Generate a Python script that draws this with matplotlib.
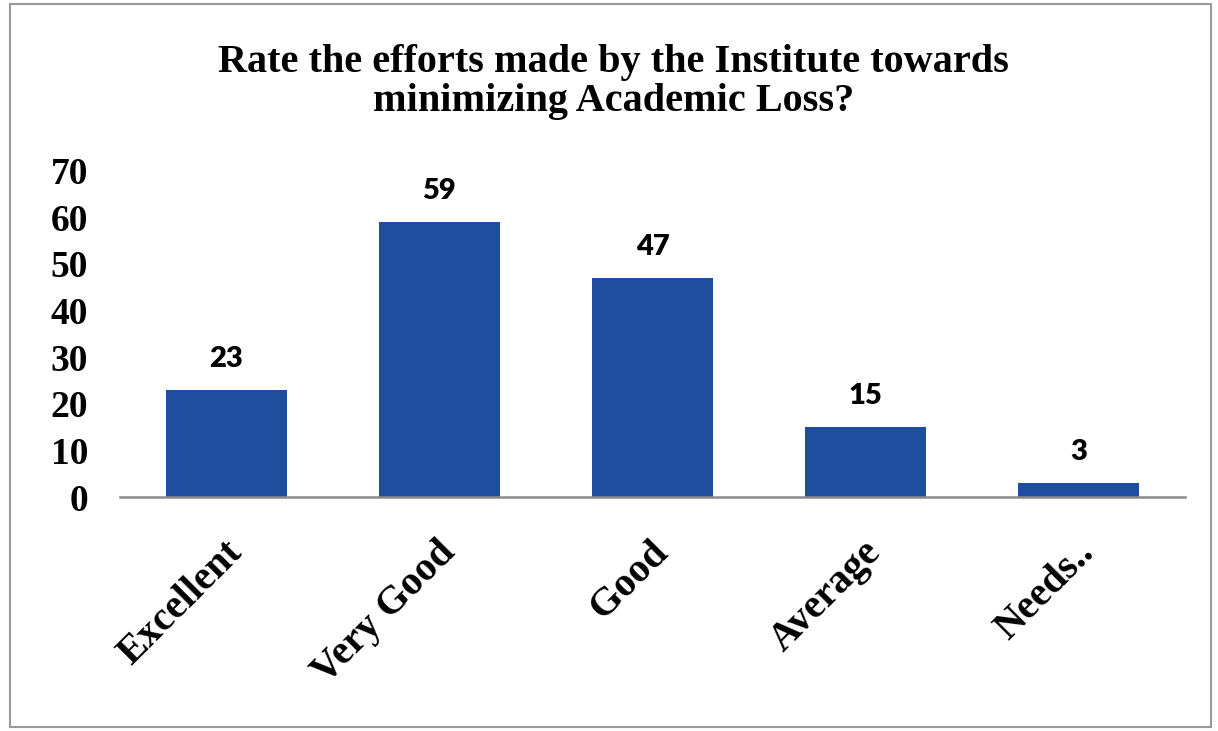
import matplotlib.pyplot as plt
from matplotlib.patches import Rectangle
from matplotlib.transforms import ScaledTranslation

categories = ['Excellent', 'Very Good', 'Good', 'Average', 'Needs..']
counts = [23, 59, 47, 15, 3]
yticks = [0, 10, 20, 30, 40, 50, 60, 70]

bar_color = '#1F4E9E'

fig = plt.figure(figsize=(12.18, 7.31), dpi=100)
ax = fig.add_axes([0.0985, 0.320, 0.8745, 0.447])

x = range(len(categories))
bars = ax.bar(x, counts, width=0.565, color=bar_color)

ax.set_xlim(-0.5, len(categories) - 0.5)
ax.set_ylim(0, 70)
ax.set_yticks(yticks)
ax.set_yticklabels([str(v) for v in yticks], family='Liberation Serif',
                   fontweight='bold', fontsize=27)
ax.tick_params(axis='y', length=0, pad=23)
ax.tick_params(axis='x', length=0, pad=0)

ax.set_xticks(list(x))
ax.set_xticklabels(categories, family='Liberation Serif', fontweight='bold',
                   fontsize=29, rotation=45, ha='right', va='center',
                   rotation_mode='anchor')
for lbl in ax.get_xticklabels():
    lbl.set_transform(lbl.get_transform() +
                      ScaledTranslation(0.10, -0.50, fig.dpi_scale_trans))

for s in ['top', 'right', 'left']:
    ax.spines[s].set_visible(False)
ax.spines['bottom'].set_color('#8a8a8a')
ax.spines['bottom'].set_linewidth(1.8)

for i, v in enumerate(counts):
    ax.annotate(str(v), (i, v), xytext=(0, 13), textcoords='offset points',
                ha='center', va='bottom', family='Lato', fontweight='heavy',
                fontsize=21, color='black')

fig.text(0.504, 0.888, 'Rate the efforts made by the Institute towards\nminimizing Academic Loss?',
         ha='center', va='center', family='Liberation Serif', fontweight='bold',
         fontsize=29, linespacing=1.05)

fig.patches.append(Rectangle((0.008, 0.005), 0.986, 0.99, transform=fig.transFigure,
                             fill=False, edgecolor='#9a9a9a', linewidth=1.5))

fig.savefig('out.png', dpi=100)
